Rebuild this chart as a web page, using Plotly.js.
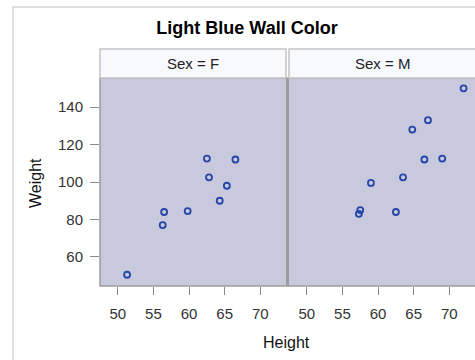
<!DOCTYPE html>
<html><head><meta charset="utf-8">
<script src="https://cdn.plot.ly/plotly-3.0.1.min.js"></script>
<style>body{margin:0;padding:0;background:#fff}#chart{width:475px;height:360px}</style>
</head><body><div id="chart"></div>
<script>
// sashelp.class, split by Sex
const femaleHeight = [56.5, 65.3, 62.8, 59.8, 62.5, 51.3, 64.3, 56.3, 66.5];
const femaleWeight = [84.0, 98.0, 102.5, 84.5, 112.5, 50.5, 90.0, 77.0, 112.0];
const maleHeight = [69.0, 63.5, 57.3, 62.5, 59.0, 72.0, 64.8, 67.0, 57.5, 66.5];
const maleWeight = [112.5, 102.5, 83.0, 84.0, 99.5, 150.0, 128.0, 133.0, 85.0, 112.0];
const panelLabels = ["Sex = F", "Sex = M"];
const xTicks = [50, 55, 60, 65, 70];
const yTicks = [60, 80, 100, 120, 140];

const FONT = 'Liberation Sans, Arial, sans-serif';
const wall = '#C8C9DC', border = '#9C9C9C', markerColor = '#2545A8';
const marker = {symbol: 'circle-open', size: 6, color: markerColor, line: {width: 1.8, color: markerColor}};
const traces = [
  {x: femaleHeight, y: femaleWeight, xaxis: 'x', yaxis: 'y', type: 'scatter', mode: 'markers', marker: marker, hoverinfo: 'x+y'},
  {x: maleHeight, y: maleWeight, xaxis: 'x2', yaxis: 'y', type: 'scatter', mode: 'markers', marker: marker, hoverinfo: 'x+y'}
];
const plotH = 208;
const hdrTop = 1 + 29 / plotH;
const d1 = [0, 186 / 375], d2 = [189 / 375, 1];
const axX = (dom) => ({
  domain: dom, range: [47.5, 73.6], tickvals: xTicks, ticks: 'outside', ticklen: 8, tickcolor: '#8A8A8A',
  ticklabelstandoff: 6,
  showgrid: false, zeroline: false, showline: false, anchor: 'y',
  tickfont: {family: FONT, size: 15, color: '#333'}
});
const layout = {
  width: 475, height: 360,
  margin: {l: 100, r: 0, t: 78, b: 74},
  paper_bgcolor: '#fff', plot_bgcolor: 'rgba(0,0,0,0)',
  showlegend: false,
  font: {family: FONT, color: '#000'},
  title: {text: '<b>Light Blue Wall Color</b>', font: {size: 18, color: '#000', family: FONT},
          xref: 'container', x: 247 / 475, xanchor: 'center', yref: 'container', y: 1 - 28 / 360, yanchor: 'middle'},
  xaxis: axX(d1),
  xaxis2: axX(d2),
  yaxis: {range: [44.5, 155.5], tickvals: yTicks, ticks: 'outside', ticklen: 9, tickcolor: '#8A8A8A',
          ticklabelstandoff: 4,
          showgrid: false, zeroline: false, showline: false, anchor: 'x',
          tickfont: {family: FONT, size: 15, color: '#333'}},
  annotations: [
    {text: 'Height', xref: 'paper', yref: 'paper', x: (286 - 100) / 375, y: -(342 - 286) / plotH, xanchor: 'center', yanchor: 'middle', showarrow: false, font: {size: 16, color: '#111'}},
    {text: 'Weight', xref: 'paper', yref: 'paper', x: (35 - 100) / 375, y: (286 - 183) / plotH, xanchor: 'center', yanchor: 'middle', textangle: -90, showarrow: false, font: {size: 16, color: '#111'}},
    {text: panelLabels[0], xref: 'paper', yref: 'paper', x: (d1[0] + d1[1]) / 2, y: (1 + hdrTop) / 2, xanchor: 'center', yanchor: 'middle', showarrow: false, font: {size: 15, color: '#222'}},
    {text: panelLabels[1], xref: 'paper', yref: 'paper', x: (d2[0] + d2[1]) / 2, y: (1 + hdrTop) / 2, xanchor: 'center', yanchor: 'middle', showarrow: false, font: {size: 15, color: '#222'}}
  ],
  shapes: [
    {type: 'rect', xref: 'paper', yref: 'paper', x0: -87 / 375, x1: 1.2, y0: -0.5, y1: 1 + 71 / plotH, line: {color: '#D6D6D6', width: 1.5}, fillcolor: 'rgba(0,0,0,0)', layer: 'below'},
    {type: 'rect', xref: 'paper', yref: 'paper', x0: d1[0], x1: d2[1] + 0.01, y0: 0, y1: 1, line: {color: border, width: 1.5}, fillcolor: wall, layer: 'below'},
    {type: 'rect', xref: 'paper', yref: 'paper', x0: d1[1], x1: d2[0], y0: 0, y1: 1, line: {width: 0}, fillcolor: border, layer: 'below'},
    {type: 'rect', xref: 'paper', yref: 'paper', x0: d1[0], x1: d1[1], y0: 1, y1: hdrTop, line: {color: '#C4C4C4', width: 1.5}, fillcolor: '#F8F9FD', layer: 'below'},
    {type: 'rect', xref: 'paper', yref: 'paper', x0: d2[0], x1: d2[1] + 0.01, y0: 1, y1: hdrTop, line: {color: '#C4C4C4', width: 1.5}, fillcolor: '#F8F9FD', layer: 'below'}
  ]
};
Plotly.newPlot('chart', traces, layout, {displayModeBar: false, staticPlot: true});
</script></body></html>
